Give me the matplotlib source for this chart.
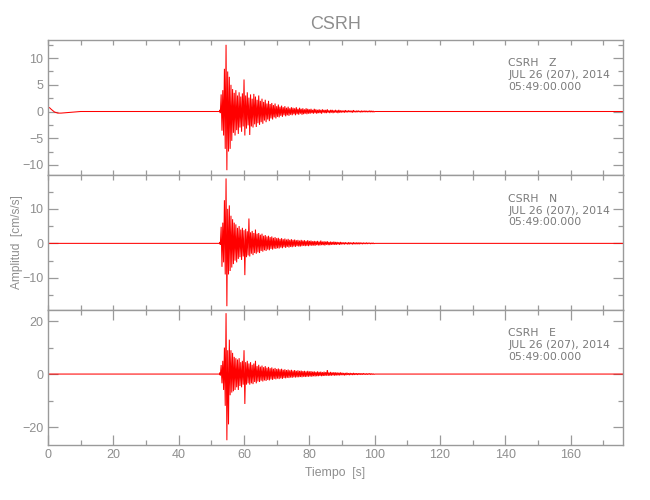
import numpy as np
import matplotlib
matplotlib.use('Agg')
import matplotlib.pyplot as plt
from matplotlib.ticker import MultipleLocator

plt.rcParams['font.family'] = ['DejaVu Sans']

# ---------------- data ----------------
title = 'CSRH'
station = 'CSRH'
components = ['Z', 'N', 'E']
date_line = 'JUL 26 (207), 2014'
time_line = '05:49:00.000'
xlabel = 'Tiempo  [s]'
ylabel = 'Amplitud  [cm/s/s]'
record_end = 176.0

# pre-event part (time s, amplitude)
z_pre_t = [0.0, 0.5, 1.0, 2.0, 3.0, 4.0, 6.0, 8.0, 10.0, 52.5]
z_pre_v = [0.8, 0.7, 0.4, -0.1, -0.3, -0.3, -0.2, -0.1, 0.0, 0.0]
n_pre_t = [0.0, 52.5]
n_pre_v = [0.0, 0.0]
e_pre_t = [0.0, 52.5]
e_pre_v = [0.0, 0.0]

# strong motion peak picks, every 0.5 s from 52.5 s
strong_t0 = 52.5
strong_dt = 0.5
z_up = [0.3, 3.2, 4.0, 8.0, 12.5, 7.5, 6.5, 5.0, 4.2, 3.5, 4.0, 3.0, 3.6, 2.8, 3.4, 6.0,
        3.0, 3.6, 2.6, 3.2, 2.4, 3.3, 2.8, 2.2, 3.0, 2.0, 2.4, 1.8, 2.2, 1.5, 2.0, 1.4,
        1.6, 1.2, 1.5, 1.0, 1.3, 0.9, 1.1, 0.8, 1.0, 0.7, 0.9, 0.6, 0.8, 0.7, 0.6, 0.8,
        0.5, 0.7, 0.5, 0.6, 0.4, 0.6, 0.5, 0.4, 0.5, 0.3, 0.5, 0.4, 0.3, 0.4, 0.3, 0.4,
        0.3, 0.3, 0.4, 0.2, 0.3, 0.3, 0.2, 0.3, 0.2, 0.3, 0.2]
z_dn = [-0.3, -3.6, -4.5, -7.0, -11.0, -7.5, -7.0, -5.5, -4.0, -4.5, -3.5, -4.2, -3.0, -3.8,
        -2.8, -4.5, -3.2, -2.6, -4.4, -2.8, -3.0, -2.4, -2.9, -2.2, -2.5, -2.0, -2.3, -1.7,
        -2.0, -1.5, -1.8, -1.3, -1.5, -1.1, -1.3, -1.0, -1.1, -0.8, -1.0, -0.7, -0.9, -0.7,
        -0.8, -0.6, -0.7, -0.5, -0.7, -0.5, -0.6, -0.4, -0.6, -0.5, -0.4, -0.5, -0.4, -0.4,
        -0.3, -0.4, -0.3, -0.4, -0.3, -0.3, -0.4, -0.2, -0.3, -0.3, -0.2, -0.3, -0.2, -0.3,
        -0.2, -0.2, -0.3, -0.2, -0.2]
n_up = [0.4, 4.8, 6.0, 12.5, 18.8, 10.0, 11.0, 8.0, 7.0, 6.0, 5.5, 4.5, 5.0, 4.0, 4.5, 3.8,
        4.2, 3.5, 7.2, 3.2, 3.6, 3.0, 4.0, 2.8, 3.0, 2.5, 2.8, 2.2, 2.4, 2.0, 2.2, 1.8,
        2.0, 1.6, 1.8, 1.5, 1.6, 1.3, 1.5, 1.2, 1.4, 1.1, 1.3, 1.0, 1.2, 1.0, 1.1, 0.9,
        1.0, 0.8, 1.0, 0.8, 0.9, 0.7, 0.9, 0.7, 0.8, 0.6, 0.7, 0.6, 0.7, 0.5, 0.8, 0.5,
        0.6, 0.5, 0.6, 0.4, 0.5, 0.4, 0.5, 0.4, 0.4, 0.3, 0.4]
n_dn = [-0.4, -6.8, -5.5, -9.0, -18.2, -9.0, -8.0, -7.0, -6.0, -5.0, -5.5, -4.5, -4.0, -4.8,
        -3.8, -9.2, -4.0, -3.5, -3.8, -3.0, -3.4, -2.8, -3.0, -2.6, -2.8, -2.2, -2.4, -2.0,
        -2.2, -1.8, -2.0, -1.6, -1.8, -1.5, -1.6, -1.4, -1.5, -1.2, -1.4, -1.1, -1.3, -1.0,
        -1.2, -1.0, -1.1, -0.9, -1.0, -0.8, -0.9, -0.9, -0.8, -0.7, -0.8, -0.7, -0.8, -0.6,
        -0.7, -0.6, -0.7, -0.5, -0.6, -0.6, -0.5, -0.5, -0.6, -0.4, -0.5, -0.5, -0.4, -0.4,
        -0.4, -0.4, -0.3, -0.4, -0.3]
e_up = [0.5, 3.4, 5.0, 10.0, 23.0, 9.0, 13.0, 9.0, 8.0, 6.5, 6.0, 5.5, 6.0, 4.5, 5.0, 9.0,
        4.5, 5.0, 4.0, 4.5, 3.5, 4.0, 5.0, 3.0, 3.5, 2.8, 3.2, 2.6, 3.0, 2.4, 2.7, 2.2,
        2.5, 2.0, 2.3, 1.9, 2.1, 1.8, 2.0, 1.6, 1.8, 1.5, 1.7, 1.4, 1.6, 1.3, 1.5, 1.2,
        1.4, 1.2, 1.3, 1.1, 1.2, 1.0, 1.2, 1.0, 1.1, 0.9, 1.0, 0.8, 1.0, 0.8, 0.9, 0.7,
        0.9, 0.7, 1.5, 0.6, 0.8, 0.6, 0.7, 0.6, 0.6, 0.5, 0.6]
e_dn = [-0.5, -3.5, -6.0, -12.0, -25.0, -19.0, -8.0, -7.0, -6.5, -6.0, -5.0, -6.0, -4.5,
        -5.0, -4.0, -11.3, -4.0, -3.5, -4.0, -3.5, -3.8, -3.0, -3.5, -2.8, -3.0, -2.5, -2.8,
        -2.4, -2.6, -2.2, -2.4, -2.0, -2.2, -1.8, -2.0, -1.7, -1.9, -1.6, -1.8, -1.5, -1.6,
        -1.4, -1.5, -1.3, -1.4, -1.2, -1.3, -1.2, -1.2, -1.1, -1.2, -1.0, -1.1, -1.0, -1.0,
        -0.9, -1.0, -0.8, -0.9, -0.8, -0.8, -0.7, -0.8, -0.7, -0.7, -0.6, -0.7, -0.6, -0.6,
        -0.5, -0.6, -0.5, -0.5, -0.5, -0.4]

# coda tail peak picks, every 0.5 s from 90 s
tail_t0 = 90.0
tail_dt = 0.5
z_tail_up = [0.2, 0.15, 0.25, 0.15, 0.2, 0.15, 0.15, 0.25, 0.1, 0.15,
             0.15, 0.1, 0.15, 0.1, 0.15, 0.1, 0.1, 0.15, 0.1, 0.1]
z_tail_dn = [-0.15, -0.2, -0.15, -0.15, -0.1, -0.15, -0.2, -0.1, -0.15, -0.1,
             -0.1, -0.15, -0.1, -0.1, -0.1, -0.1, -0.1, -0.1, -0.1, -0.1]
n_tail_up = [0.3, 0.25, 0.3, 0.2, 0.3, 0.25, 0.2, 0.3, 0.2, 0.25,
             0.2, 0.25, 0.15, 0.2, 0.15, 0.2, 0.15, 0.15, 0.1, 0.15]
n_tail_dn = [-0.25, -0.3, -0.2, -0.3, -0.25, -0.2, -0.3, -0.2, -0.25, -0.2,
             -0.25, -0.15, -0.2, -0.15, -0.15, -0.15, -0.1, -0.15, -0.1, -0.1]
e_tail_up = [0.5, 0.4, 0.4, 0.5, 0.3, 0.4, 0.3, 0.4, 0.3, 0.3,
             0.25, 0.3, 0.2, 0.3, 0.2, 0.2, 0.2, 0.25, 0.15, 0.15]
e_tail_dn = [-0.4, -0.5, -0.4, -0.3, -0.4, -0.3, -0.35, -0.3, -0.25, -0.3,
             -0.2, -0.25, -0.2, -0.2, -0.2, -0.2, -0.15, -0.2, -0.15, -0.15]

y_limits = [(-11.9, 13.4), (-19.3, 19.8), (-26.8, 24.2)]
y_major = [5, 10, 20]
y_minor = [2.5, 5, 10]

traces = [
    (z_pre_t, z_pre_v, z_up, z_dn, z_tail_up, z_tail_dn),
    (n_pre_t, n_pre_v, n_up, n_dn, n_tail_up, n_tail_dn),
    (e_pre_t, e_pre_v, e_up, e_dn, e_tail_up, e_tail_dn),
]


def build_trace(pre_t, pre_v, up, dn, tup, tdn):
    t = list(pre_t)
    v = list(pre_v)
    for i, (a, b) in enumerate(zip(up, dn)):
        t0 = strong_t0 + i * strong_dt
        t += [t0, t0 + strong_dt / 2]
        v += [a, b]
    for i, (a, b) in enumerate(zip(tup, tdn)):
        t0 = tail_t0 + i * tail_dt
        t += [t0, t0 + tail_dt / 2]
        v += [a, b]
    t += [t[-1] + tail_dt / 2, record_end]
    v += [0.0, 0.0]
    return np.array(t), np.array(v)


# ---------------- figure ----------------
gray = '#8e8e8e'
spine_gray = '#9a9a9a'
tickfont = ['Liberation Sans', 'DejaVu Sans']
regular = ['Liberation Sans', 'DejaVu Sans']

fig = plt.figure(figsize=(6.5, 5.0), dpi=100)
W, H = 650.0, 500.0
left_px, right_px = 48, 623
panel_px = [(40, 175), (175, 310), (310, 445)]

axes = []
for k, (top, bot) in enumerate(panel_px):
    ax = fig.add_axes([left_px / W, 1 - bot / H, (right_px - left_px) / W, (bot - top) / H])
    axes.append(ax)
    t, v = build_trace(*traces[k])
    ax.plot(t, v, color='#ff0000', lw=0.75, solid_joinstyle='miter')
    ax.set_xlim(0, record_end)
    ax.set_ylim(*y_limits[k])
    ax.xaxis.set_major_locator(MultipleLocator(20))
    ax.xaxis.set_minor_locator(MultipleLocator(10))
    ax.yaxis.set_major_locator(MultipleLocator(y_major[k]))
    ax.yaxis.set_minor_locator(MultipleLocator(y_minor[k]))
    for s in ax.spines.values():
        s.set_color(spine_gray)
        s.set_linewidth(1.0)
    ax.tick_params(axis='both', which='both', direction='in', colors=spine_gray,
                   top=True, right=True, width=0.9)
    ax.tick_params(axis='y', which='major', length=7.2, pad=3.5)
    ax.tick_params(axis='y', which='minor', length=3.6)
    if k < 2:
        ax.tick_params(axis='x', which='both', length=3.6, labelbottom=False)
    else:
        ax.tick_params(axis='x', which='major', length=7.0, pad=3.0)
        ax.tick_params(axis='x', which='minor', length=3.6)
    for lab in ax.get_xticklabels() + ax.get_yticklabels():
        lab.set_family(tickfont)
        lab.set_fontsize(9)
        lab.set_color(gray)
    # station annotation
    fx = (508 - left_px) / (right_px - left_px)
    ph = bot - top
    lines = [f'{station}   {components[k]}', date_line, time_line]
    offs = [26.5, 38.5, 50.0]
    for txt, o in zip(lines, offs):
        ax.text(fx, 1 - o / ph, txt, transform=ax.transAxes, ha='left', va='baseline',
                fontsize=7.85, color='#7a7a7a', family=['DejaVu Sans'])

axes[2].set_xlabel(xlabel, family=regular, fontsize=8.8, color=gray, labelpad=4)
fig.text(17 / W, 1 - 242 / H, ylabel, rotation=90, ha='center', va='center',
         family=regular, fontsize=8.6, color=gray)
fig.text((left_px + right_px) / 2 / W, 1 - 29.5 / H, title, ha='center', va='baseline',
         family=regular, fontsize=13, color=gray)

fig.savefig('out.png', dpi=100, facecolor='white')
